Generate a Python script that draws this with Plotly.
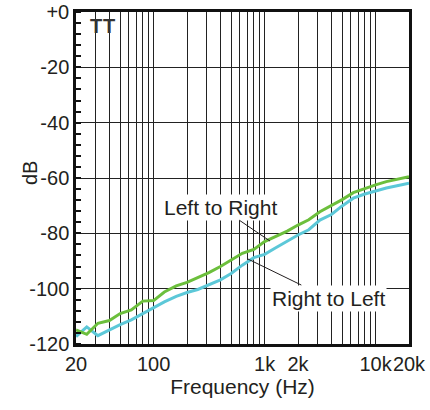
import math
import plotly.graph_objects as go

freq = [20, 25, 31.5, 40, 50, 63, 80, 100, 125, 160, 200, 250, 315, 400, 500, 630, 800,
        1000, 1250, 1600, 2000, 2500, 3150, 4000, 5000, 6300, 8000, 10000, 12500, 16000, 20000]
left_to_right = [-114.9, -116.5, -112.5, -111.5, -109.0, -107.7, -104.5, -104.3, -101.2, -99.0,
                 -97.7, -96.0, -94.2, -92.0, -89.6, -87.2, -85.8, -83.0, -81.2, -79.2, -77.0,
                 -75.1, -72.2, -70.0, -67.8, -65.3, -63.8, -62.5, -61.3, -60.3, -59.5]
right_to_left = [-117.3, -113.8, -117.0, -114.8, -113.0, -111.3, -109.0, -107.1, -104.8, -102.8,
                 -101.4, -100.3, -98.6, -96.8, -94.5, -91.5, -88.8, -87.6, -85.3, -82.8, -80.6,
                 -78.7, -75.2, -73.2, -70.1, -67.3, -65.8, -64.7, -63.6, -62.7, -61.9]

x_grid = ([m * 10 for m in range(2, 10)] + [m * 100 for m in range(1, 10)]
          + [m * 1000 for m in range(1, 10)] + [10000, 20000])
x_labels = {20: "20", 100: "100", 1000: "1k", 2000: "2k", 10000: "10k", 20000: "20k"}
x_text = [x_labels.get(v, "") for v in x_grid]
y_ticks = [0, -20, -40, -60, -80, -100, -120]
y_text = ["+0", "-20", "-40", "-60", "-80", "-100", "-120"]

FONT = "Liberation Sans, Arial, sans-serif"
TXT = "#231f20"

fig = go.Figure()
fig.add_trace(go.Scatter(x=freq, y=right_to_left, mode="lines", name="Right to Left",
                         line=dict(color="#5cc8d8", width=3)))
fig.add_trace(go.Scatter(x=freq, y=left_to_right, mode="lines", name="Left to Right",
                         line=dict(color="#6cbf3c", width=3)))

fig.add_annotation(x=math.log10(1119), y=-82.8, text="Left to Right", showarrow=True,
                   arrowhead=0, arrowwidth=1, arrowcolor=TXT, ax=-50, ay=-34,
                   bgcolor="white", borderpad=1, font=dict(size=21, color=TXT, family=FONT))
fig.add_annotation(x=math.log10(709), y=-89.3, text="Right to Left", showarrow=True,
                   arrowhead=0, arrowwidth=1, arrowcolor=TXT, ax=80, ay=39,
                   bgcolor="white", borderpad=1, font=dict(size=21, color=TXT, family=FONT))
for fx in (30, 40):
    fig.add_annotation(x=math.log10(fx), y=-5.1, text="<b>T</b>", showarrow=False,
                       font=dict(size=20, color="#333", family=FONT))
fig.add_annotation(xref="paper", yref="paper", x=-0.138, y=0.515, text="dB", textangle=-90,
                   xanchor="center", yanchor="middle",
                   showarrow=False, font=dict(size=20, color=TXT, family=FONT))

fig.update_layout(
    width=430, height=410,
    margin=dict(l=76, r=21, t=12, b=66),
    plot_bgcolor="white", paper_bgcolor="white",
    showlegend=False,
    font=dict(family=FONT, size=20, color=TXT),
    xaxis=dict(type="log", range=[1.30103, 4.30103], tickvals=x_grid, ticktext=x_text,
               tickangle=0, ticklabeloverflow="allow",
               showgrid=True, gridcolor="#222", gridwidth=1, ticks="",
               showline=True, linecolor="#111", linewidth=2.5, mirror=True,
               automargin=False,
               title=dict(text="Frequency (Hz)", font=dict(size=21), standoff=4),
               tickfont=dict(size=20), zeroline=False),
    yaxis=dict(range=[-120, 0], tickvals=y_ticks, ticktext=y_text,
               ticklabeloverflow="allow",
               showgrid=True, gridcolor="#222", gridwidth=1,
               showline=True, linecolor="#111", linewidth=2.5, mirror=True,
               automargin=False,
               ticks="", zeroline=False, tickfont=dict(size=20),
               minor=dict(dtick=4, tick0=0, ticks="inside", ticklen=5, tickcolor="#111",
                          tickwidth=1.5, showgrid=False)),
)

# remove the default 8px page margin so the 430x410 figure fills the window exactly
fig.write_html("out.html", config={"displayModeBar": False},
               post_script="document.body.style.margin='0';")
